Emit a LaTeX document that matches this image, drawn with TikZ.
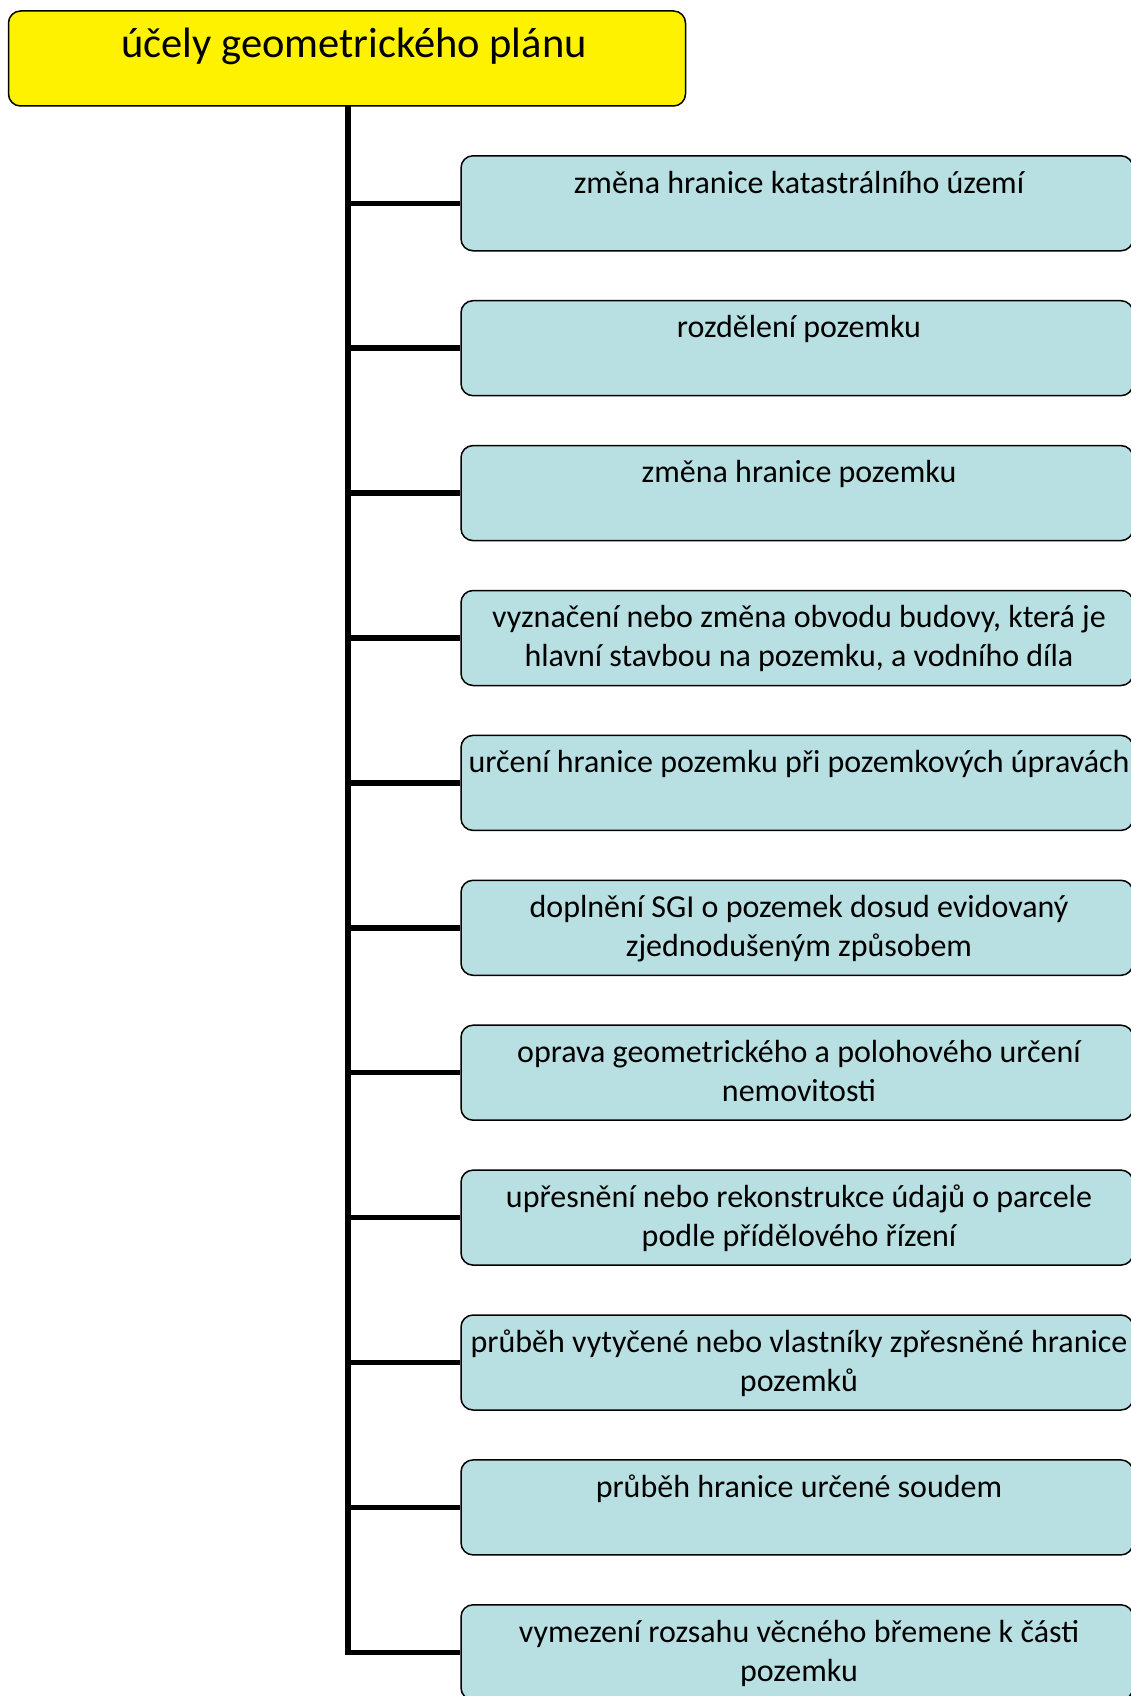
\documentclass[tikz,border=0pt]{standalone}
\usepackage{fontspec}
\setmainfont{Carlito}
\usetikzlibrary{calc}
\definecolor{boxblue}{RGB}{184,223,226}
\begin{document}
\begin{tikzpicture}[x=1pt,y=-1pt,
  topbox/.style={draw=black, line width=1.5pt, rounded corners=12pt, fill=yellow, minimum width=677pt, minimum height=95pt, inner sep=0pt},
  itembox/.style={draw=black, line width=1.5pt, rounded corners=12pt, fill=boxblue, minimum width=672pt, minimum height=95pt, inner sep=0pt},
  itemtxt/.style={font=\fontsize{32}{39}\selectfont, align=center, inner sep=0pt, anchor=base},
  toptxt/.style={font=\fontsize{42.5}{50}\selectfont, inner sep=0pt, anchor=base},
  branch/.style={line width=5.5pt},
]
\useasboundingbox (0,0) rectangle (1131,1696);
\node[topbox] (root) at (347,58.5) {};
\node[toptxt] (roottxt) at (354,58) {účely geometrického plánu};
\coordinate (trunktop) at (348,106);

\node[itembox] (b1) at (797,203.3) {};
\node[itembox] (b2) at (797,348.2) {};
\node[itembox] (b3) at (797,493.1) {};
\node[itembox] (b4) at (797,638.0) {};
\node[itembox] (b5) at (797,782.9) {};
\node[itembox] (b6) at (797,927.8) {};
\node[itembox] (b7) at (797,1072.7) {};
\node[itembox] (b8) at (797,1217.6) {};
\node[itembox] (b9) at (797,1362.5) {};
\node[itembox] (b10) at (797,1507.4) {};
\node[itembox] (b11) at (797,1652.3) {};

\node[itemtxt] (t1) at ($(b1.north)+(2,38)$) {změna hranice katastrálního území};
\node[itemtxt] (t2) at ($(b2.north)+(2,38)$) {rozdělení pozemku};
\node[itemtxt] (t3) at ($(b3.north)+(2,38)$) {změna hranice pozemku};
\node[itemtxt] (t4) at ($(b4.north)+(2,77)$) {vyznačení nebo změna obvodu budovy, která je\\hlavní stavbou na pozemku, a vodního díla};
\node[itemtxt] (t5) at ($(b5.north)+(2,38)$) {určení hranice pozemku při pozemkových úpravách};
\node[itemtxt] (t6) at ($(b6.north)+(2,77)$) {doplnění SGI o pozemek dosud evidovaný\\zjednodušeným způsobem};
\node[itemtxt] (t7) at ($(b7.north)+(2,77)$) {oprava geometrického a polohového určení\\nemovitosti};
\node[itemtxt] (t8) at ($(b8.north)+(2,77)$) {upřesnění nebo rekonstrukce údajů o parcele\\podle přídělového řízení};
\node[itemtxt] (t9) at ($(b9.north)+(2,77)$) {průběh vytyčené nebo vlastníky zpřesněné hranice\\pozemků};
\node[itemtxt] (t10) at ($(b10.north)+(2,38)$) {průběh hranice určené soudem};
\node[itemtxt] (t11) at ($(b11.north)+(2,77)$) {vymezení rozsahu věcného břemene k části\\pozemku};

\draw[branch] (trunktop) |- (b11.west);
\foreach \b in {b1,b2,b3,b4,b5,b6,b7,b8,b9,b10}{
  \draw[branch] (\b.west -| trunktop) -- (\b.west);
}
\end{tikzpicture}
\end{document}
